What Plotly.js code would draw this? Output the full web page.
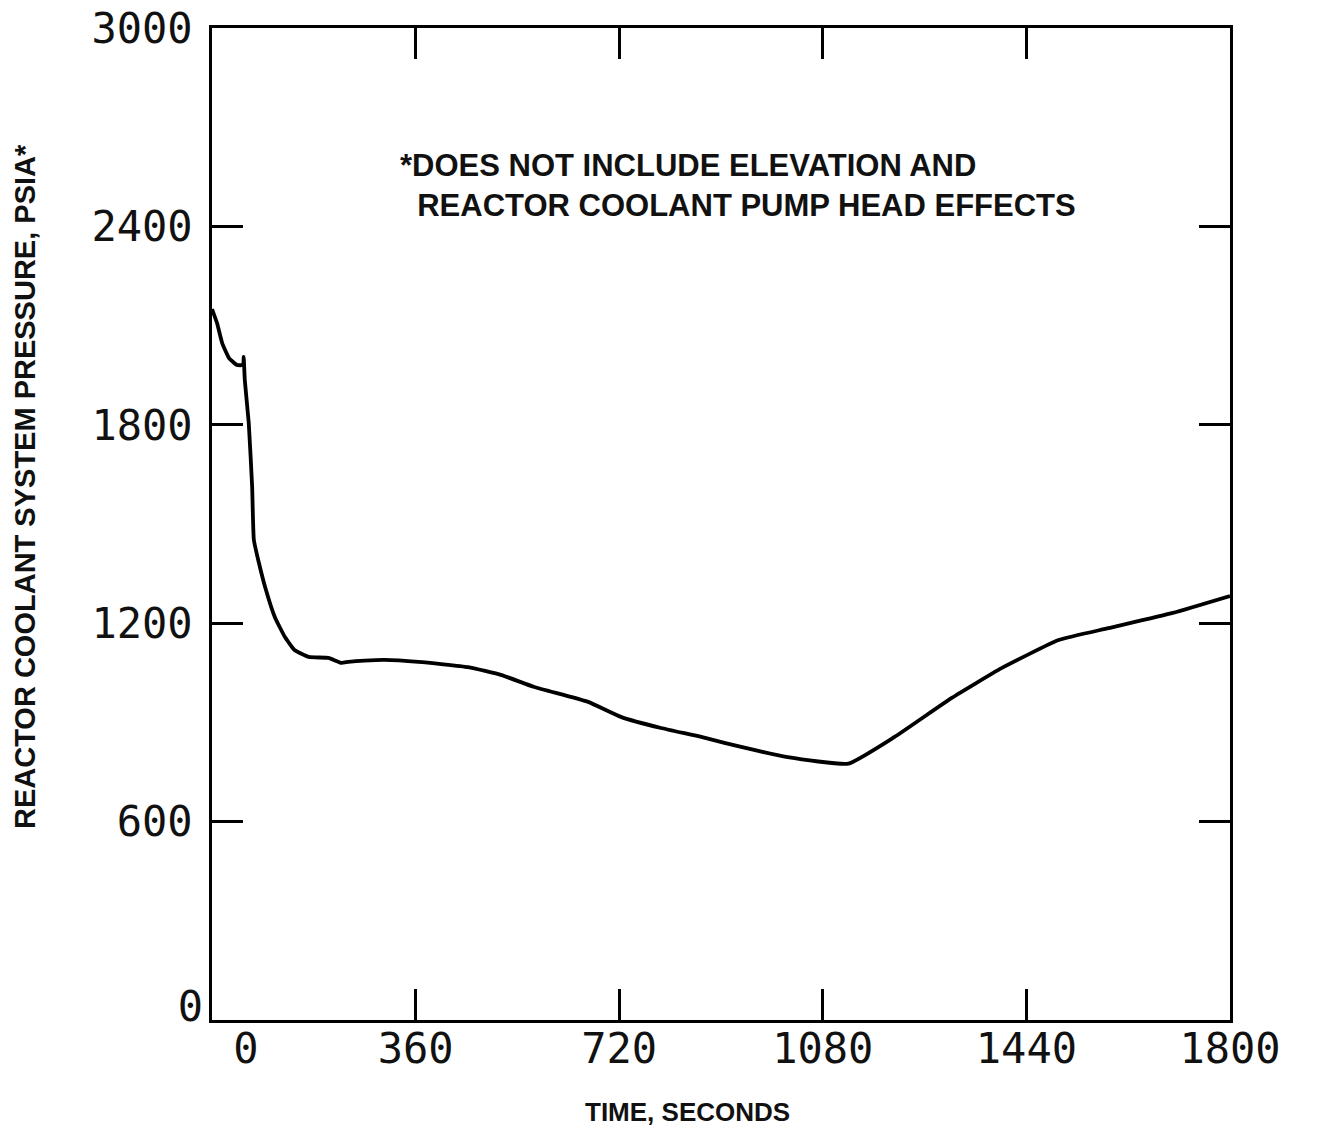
<!DOCTYPE html>
<html>
<head>
<meta charset="utf-8">
<script src="https://cdn.plot.ly/plotly-3.0.1.min.js"></script>
<style>html,body{margin:0;padding:0;background:#fff;}#chart{width:1333px;height:1136px;}</style>
</head>
<body>
<div id="chart"></div>
<script>
// Time, seconds
const timeSec = [0, 9, 18, 30, 44, 55, 56, 58, 65, 71, 74, 83, 94, 111, 129, 146, 171, 206, 229, 241, 270, 305, 365, 453, 512, 570, 665, 724, 794, 865, 906, 1018, 1125, 1207, 1308, 1396, 1497, 1585, 1699, 1800];
// Reactor coolant system pressure, psia
const pressurePsia = [2150, 2107, 2047, 2002, 1981, 1981, 2005, 1935, 1805, 1612, 1452, 1382, 1309, 1219, 1158, 1119, 1098, 1095, 1080, 1083, 1087, 1089, 1083, 1067, 1043, 1007, 962, 916, 883, 856, 838, 795, 775, 856, 974, 1064, 1149, 1185, 1231, 1282];

const xTickVals = [360, 720, 1080, 1440, 1800];
const xTickText = ['360', '720', '1080', '1440', '1800'];
const yTickVals = [600, 1200, 1800, 2400, 3000];
const yTickText = ['600', '1200', '1800', '2400', '3000'];
const xTitle = 'TIME, SECONDS';
const yTitle = 'REACTOR COOLANT SYSTEM PRESSURE, PSIA*';
const noteText = '*DOES NOT INCLUDE ELEVATION AND<br>&nbsp;&nbsp;REACTOR COOLANT PUMP HEAD EFFECTS';

const tickFont = {family: 'DejaVu Sans Mono', size: 42, color: '#111'};
const boldFont = (s) => ({family: 'Liberation Sans, Arial, sans-serif', size: s, color: '#111', weight: 'bold'});

const trace = {
  x: timeSec, y: pressurePsia, type: 'scatter', mode: 'lines',
  line: {color: '#000', width: 3.8, shape: 'spline', smoothing: 0.4},
  showlegend: false, hoverinfo: 'skip'
};
// helper trace hosting the offset "0" tick labels on overlay axes
const helper = {x: [0], y: [0], xaxis: 'x2', yaxis: 'y2', mode: 'markers', marker: {opacity: 0}, showlegend: false, hoverinfo: 'skip'};

const W = 1018, H = 992, L = 212, T = 28;
const px = (x) => (x - L) / W;
const py = (y) => 1 - (y - T) / H;

const layout = {
  width: 1333, height: 1136,
  margin: {l: L, r: 103, t: T, b: 116},
  paper_bgcolor: '#fff', plot_bgcolor: '#fff',
  xaxis: {
    range: [0, 1800], tickvals: xTickVals, ticktext: xTickText,
    ticks: 'inside', ticklen: 31, tickwidth: 3, tickcolor: '#000',
    showline: true, linewidth: 3, linecolor: '#000', mirror: 'allticks',
    showgrid: false, zeroline: false, tickfont: tickFont, ticklabelstandoff: -10,
    fixedrange: true
  },
  yaxis: {
    range: [0, 3000], tickvals: yTickVals, ticktext: yTickText,
    ticks: 'inside', ticklen: 31, tickwidth: 3, tickcolor: '#000',
    showline: true, linewidth: 3, linecolor: '#000', mirror: 'allticks',
    showgrid: false, zeroline: false, tickfont: tickFont, ticklabelstandoff: 8,
    fixedrange: true
  },
  xaxis2: {
    overlaying: 'x', anchor: 'y2', range: [0, 1800], tickvals: [0], ticktext: ['0'],
    ticks: '', showline: false, showgrid: false, zeroline: false,
    tickfont: tickFont, ticklabelshift: 34, ticklabelstandoff: 0, fixedrange: true
  },
  yaxis2: {
    overlaying: 'y', anchor: 'x2', range: [0, 3000], tickvals: [0], ticktext: ['0'],
    ticks: '', showline: false, showgrid: false, zeroline: false,
    tickfont: tickFont, ticklabelshift: -14, ticklabelstandoff: 8, fixedrange: true
  },
  annotations: [
    {
      text: noteText, xref: 'paper', yref: 'paper',
      x: px(398), y: py(146), xanchor: 'left', yanchor: 'top',
      align: 'left', showarrow: false, font: boldFont(31)
    },
    {
      text: xTitle, xref: 'paper', yref: 'paper',
      x: px(687), y: py(1112), xanchor: 'center', yanchor: 'middle',
      showarrow: false, font: boldFont(26)
    },
    {
      text: yTitle, xref: 'paper', yref: 'paper', textangle: -90,
      x: px(25), y: py(487), xanchor: 'center', yanchor: 'middle',
      showarrow: false, font: boldFont(29)
    }
  ]
};

Plotly.newPlot('chart', [trace, helper], layout, {displayModeBar: false, staticPlot: true});
</script>
</body>
</html>
